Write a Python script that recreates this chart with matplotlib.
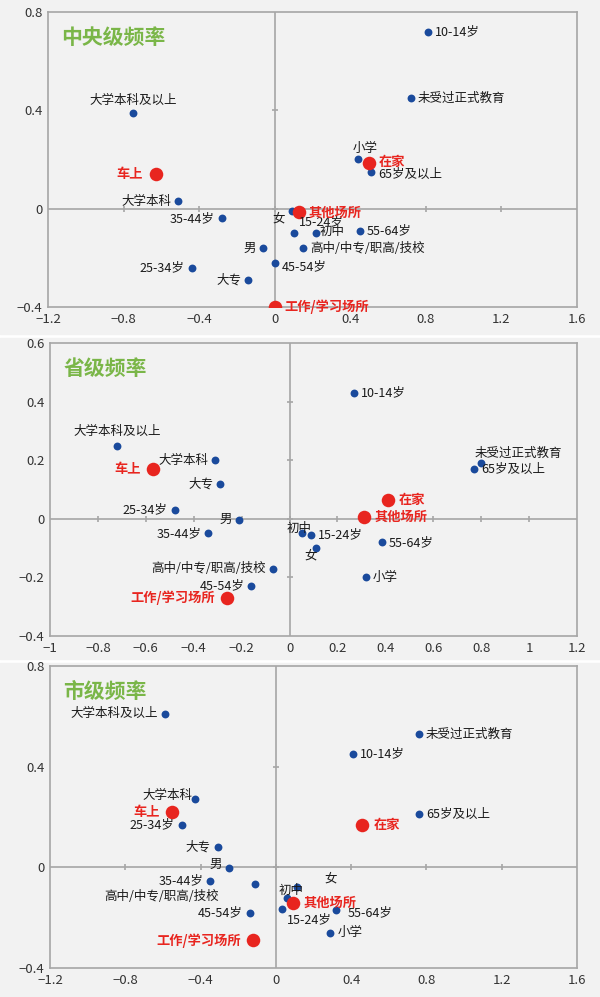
import matplotlib.pyplot as plt
from matplotlib.patches import Rectangle

plt.rcParams['font.family'] = ['Noto Sans CJK SC', 'DejaVu Sans']

# ---- data ----
titles = ['中央级频率', '省级频率', '市级频率']

central_labels = ['10-14岁', '未受过正式教育', '大学本科及以上', '小学', '65岁及以上', '大学本科',
                  '35-44岁', '女', '15-24岁', '初中', '55-64岁', '男', '高中/中专/职高/技校',
                  '45-54岁', '25-34岁', '大专']
central_x = [0.81, 0.72, -0.75, 0.44, 0.51, -0.51, -0.28, 0.09, 0.10, 0.22, 0.45, -0.06, 0.15, 0.0, -0.44, -0.14]
central_y = [0.72, 0.45, 0.39, 0.20, 0.15, 0.03, -0.04, -0.01, -0.10, -0.10, -0.09, -0.16, -0.16, -0.22, -0.24, -0.29]
central_place = ['车上', '在家', '其他场所', '工作/学习场所']
central_px = [-0.63, 0.50, 0.13, 0.0]
central_py = [0.14, 0.186, -0.015, -0.40]

prov_labels = ['10-14岁', '大学本科及以上', '大学本科', '未受过正式教育', '65岁及以上', '大专', '25-34岁',
               '男', '35-44岁', '初中', '15-24岁', '55-64岁', '女', '高中/中专/职高/技校', '小学', '45-54岁']
prov_x = [0.27, -0.72, -0.31, 0.80, 0.77, -0.29, -0.48, -0.21, -0.34, 0.05, 0.09, 0.385, 0.11, -0.07, 0.32, -0.16]
prov_y = [0.43, 0.25, 0.20, 0.19, 0.17, 0.12, 0.03, -0.003, -0.05, -0.05, -0.055, -0.08, -0.10, -0.17, -0.20, -0.23]
prov_place = ['车上', '在家', '其他场所', '工作/学习场所']
prov_px = [-0.57, 0.41, 0.31, -0.26]
prov_py = [0.17, 0.065, 0.007, -0.27]

city_labels = ['大学本科及以上', '未受过正式教育', '10-14岁', '大学本科', '65岁及以上', '25-34岁', '大专',
               '男', '35-44岁', '高中/中专/职高/技校', '女', '初中', '15-24岁', '55-64岁', '45-54岁', '小学']
city_x = [-0.59, 0.76, 0.41, -0.43, 0.76, -0.50, -0.31, -0.25, -0.35, -0.11, 0.11, 0.06, 0.03, 0.32, -0.14, 0.29]
city_y = [0.61, 0.53, 0.45, 0.27, 0.21, 0.17, 0.08, -0.004, -0.055, -0.065, -0.08, -0.12, -0.165, -0.17, -0.18, -0.26]
city_place = ['车上', '在家', '其他场所', '工作/学习场所']
city_px = [-0.55, 0.46, 0.09, -0.12]
city_py = [0.22, 0.17, -0.14, -0.29]

xlims = [(-1.2, 1.6), (-1.0, 1.2), (-1.2, 1.6)]
ylims = [(-0.4, 0.8), (-0.4, 0.6), (-0.4, 0.8)]
xsteps = [0.4, 0.2, 0.4]
ysteps = [0.4, 0.2, 0.4]

# label placement per panel: label -> (dx, dy, ha) in points
R = (5, 0, 'left')
L = (-5, 0, 'right')
central_pos = {'大学本科及以上': (0, 9, 'center'), '小学': (-4, 8, 'left'), '大学本科': L, '35-44岁': L,
               '女': (-5, -6, 'right'), '15-24岁': (4, 8, 'left'), '初中': (2, 1, 'left'), '男': L,
               '45-54岁': (5, -3, 'left'), '25-34岁': L, '大专': L, '65岁及以上': (5, -2, 'left'),
               '车上': (-9, 0, 'right'), '在家': (7, 1, 'left'), '其他场所': (7, 0, 'left'),
               '工作/学习场所': (7, 0, 'left')}
prov_pos = {'大学本科及以上': (0, 10, 'center'), '大学本科': L, '未受过正式教育': (-5, 7, 'left'),
            '65岁及以上': (5, 0, 'left'), '大专': L, '25-34岁': L, '男': L, '35-44岁': L,
            '初中': (-2, 4, 'center'), '女': (-4, -6, 'center'), '高中/中专/职高/技校': L, '45-54岁': L,
            '车上': (-9, 0, 'right'), '在家': (8, 0, 'left'), '其他场所': (8, 0, 'left'),
            '工作/学习场所': (-9, 0, 'right')}
city_pos = {'大学本科及以上': L, '大学本科': (-2, 3, 'right'), '25-34岁': L, '大专': L, '男': (-5, 3, 'right'),
            '35-44岁': L, '高中/中专/职高/技校': (-26, -9, 'right'), '女': (20, 6, 'left'),
            '初中': (-6, 5, 'left'), '15-24岁': (4, -8, 'left'), '55-64岁': (8, -2, 'left'), '45-54岁': L,
            '车上': (-9, 0, 'right'), '在家': (8, 0, 'left'), '其他场所': (8, 0, 'left'),
            '工作/学习场所': (-9, 0, 'right')}

panels = [
    (central_labels, central_x, central_y, central_place, central_px, central_py, central_pos),
    (prov_labels, prov_x, prov_y, prov_place, prov_px, prov_py, prov_pos),
    (city_labels, city_x, city_y, city_place, city_px, city_py, city_pos),
]

BLUE = '#1a4a9c'
RED = '#e8251f'
GREEN = '#7ab648'
GRAY = '#a6a6a6'
BG = '#f2f2f2'

fig = plt.figure(figsize=(6.0, 9.97), dpi=100)
H = 997.0
# panel background blocks (pixels: top, bottom)
blocks = [(0, 334), (338, 659), (663, 997)]
for top, bot in blocks:
    fig.patches.append(Rectangle((0.0, 1 - bot / H), 1.0, (bot - top) / H,
                                 transform=fig.transFigure, color=BG, zorder=-10))
# axes rectangles (pixels: left, right, top, bottom)
rects = [(48, 577, 12, 307), (50, 577, 343, 636), (50, 577, 666, 968)]

for i, (labels, xs, ys, places, pxs, pys, pos) in enumerate(panels):
    l, r, t, b = rects[i]
    ax = fig.add_axes([l / 600, 1 - b / H, (r - l) / 600, (b - t) / H])
    ax.set_zorder(1)
    ax.set_facecolor(BG)
    ax.set_xlim(*xlims[i])
    ax.set_ylim(*ylims[i])
    x0, x1 = xlims[i]
    y0, y1 = ylims[i]
    nx = int(round((x1 - x0) / xsteps[i]))
    ny = int(round((y1 - y0) / ysteps[i]))
    xt = [round(x0 + k * xsteps[i], 2) for k in range(nx + 1)]
    yt = [round(y0 + k * ysteps[i], 2) for k in range(ny + 1)]
    ax.set_xticks(xt)
    ax.set_yticks(yt)
    fmt = lambda v: ('%g' % v).replace('-', '\u2212')
    ax.set_xticklabels([fmt(v) for v in xt])
    ax.set_yticklabels([fmt(v) for v in yt])
    ax.tick_params(length=0, labelsize=9.5, colors='#333333', pad=4)
    for s in ax.spines.values():
        s.set_color(GRAY)
        s.set_linewidth(1.2)
    ax.axhline(0, color=GRAY, lw=1.2, zorder=1)
    ax.axvline(0, color=GRAY, lw=1.2, zorder=1)
    # small tick marks on the zero lines
    ax.plot(xt[1:-1], [0] * (len(xt) - 2), '|', color=GRAY, ms=5, mew=1.2, zorder=1)
    ax.plot([0] * (len(yt) - 2), yt[1:-1], '_', color=GRAY, ms=5, mew=1.2, zorder=1)

    ax.scatter(xs, ys, s=32, color=BLUE, zorder=3, linewidths=0)
    for lab, x, y in zip(labels, xs, ys):
        dx, dy, ha = pos.get(lab, R)
        ax.annotate(lab, (x, y), xytext=(dx, dy), textcoords='offset points',
                    ha=ha, va='center', fontsize=9, color='#1a1a1a', zorder=4)
    ax.scatter(pxs, pys, s=95, color=RED, zorder=3, linewidths=0)
    for lab, x, y in zip(places, pxs, pys):
        dx, dy, ha = pos.get(lab, R)
        ax.annotate(lab, (x, y), xytext=(dx, dy), textcoords='offset points',
                    ha=ha, va='center', fontsize=9.5, color=RED, fontweight='bold', zorder=4)
    ax.text(0.025, 0.95, titles[i], transform=ax.transAxes, ha='left', va='top',
            fontsize=15, fontweight='bold', color=GREEN)

fig.savefig('out.png', dpi=100, facecolor='white')
